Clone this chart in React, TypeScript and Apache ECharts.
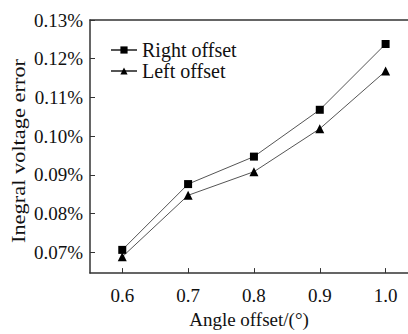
import React, { useEffect, useRef } from "react";
import * as echarts from "echarts";

const angles = [0.6, 0.7, 0.8, 0.9, 1.0];
const rightOffset = [0.0706, 0.0876, 0.0947, 0.1068, 0.1238];
const leftOffset = [0.0688, 0.0847, 0.0908, 0.1019, 0.1168];
const xTicks = [0.6, 0.7, 0.8, 0.9, 1.0];
const yTicks = [0.07, 0.08, 0.09, 0.1, 0.11, 0.12, 0.13];

const FONT = "Liberation Serif";

export default function App() {
  const ref = useRef<HTMLDivElement>(null);
  useEffect(() => {
    if (!ref.current) return;
    const chart = echarts.init(ref.current, null, { renderer: "svg" });
    const axisColor = "#333";
    chart.setOption({
      animation: false,
      textStyle: { fontFamily: FONT },
      grid: { left: 90, top: 20, right: 0, bottom: 49 },
      legend: {
        orient: "vertical",
        left: 110,
        top: 40,
        padding: 0,
        itemWidth: 26,
        itemHeight: 9,
        itemGap: 1,
        textStyle: { fontFamily: FONT, fontSize: 20, color: "#111" },
        data: ["Right offset", "Left offset"],
      },
      graphic: [
        {
          type: "text",
          x: 18,
          y: 151,
          rotation: Math.PI / 2,
          scaleX: 1.18,
          style: {
            text: "Inegral voltage error",
            fontFamily: FONT,
            fontSize: 19,
            fill: "#111",
            align: "center",
            verticalAlign: "middle",
          },
        },
      ],
      xAxis: [
        {
          type: "value",
          min: 0.551,
          max: 1.034,
          name: "Angle offset/(°)",
          nameLocation: "middle",
          nameGap: 35,
          nameTextStyle: { fontFamily: FONT, fontSize: 19, color: "#111" },
          axisLine: { show: true, lineStyle: { color: axisColor, width: 1.5 } },
          axisTick: {
            show: true,
            inside: true,
            length: 5,
            customValues: xTicks,
            lineStyle: { color: axisColor },
          },
          axisLabel: {
            customValues: xTicks,
            formatter: (v: number) => v.toFixed(1),
            fontFamily: FONT,
            fontSize: 19,
            color: "#111",
            margin: 13,
          },
          splitLine: { show: false },
        },
        {
          type: "value",
          position: "top",
          min: 0.551,
          max: 1.034,
          axisLine: { show: true, lineStyle: { color: axisColor, width: 1.5 } },
          axisTick: { show: false },
          axisLabel: { show: false },
          splitLine: { show: false },
        },
      ],
      yAxis: {
        type: "value",
        min: 0.0646,
        max: 0.13,
        axisLine: { show: true, lineStyle: { color: axisColor, width: 1.5 } },
        axisTick: {
          show: true,
          inside: true,
          length: 5,
          customValues: yTicks,
          lineStyle: { color: axisColor },
        },
        axisLabel: {
          customValues: yTicks,
          formatter: (v: number) => v.toFixed(2) + "%",
          fontFamily: FONT,
          fontSize: 19,
          color: "#111",
          margin: 7,
        },
        splitLine: { show: false },
      },
      series: [
        {
          name: "Right offset",
          type: "line",
          data: angles.map((a, i) => [a, rightOffset[i]]),
          symbol: "rect",
          symbolSize: 8,
          itemStyle: { color: "#000" },
          lineStyle: { color: "#555", width: 1 },
        },
        {
          name: "Left offset",
          type: "line",
          data: angles.map((a, i) => [a, leftOffset[i]]),
          symbol: "triangle",
          symbolSize: 9,
          itemStyle: { color: "#000" },
          lineStyle: { color: "#555", width: 1 },
        },
      ],
    });
    return () => chart.dispose();
  }, []);
  return (
    <div
      ref={ref}
      style={{ position: "absolute", left: 0, top: 0, width: 408, height: 334 }}
    />
  );
}
